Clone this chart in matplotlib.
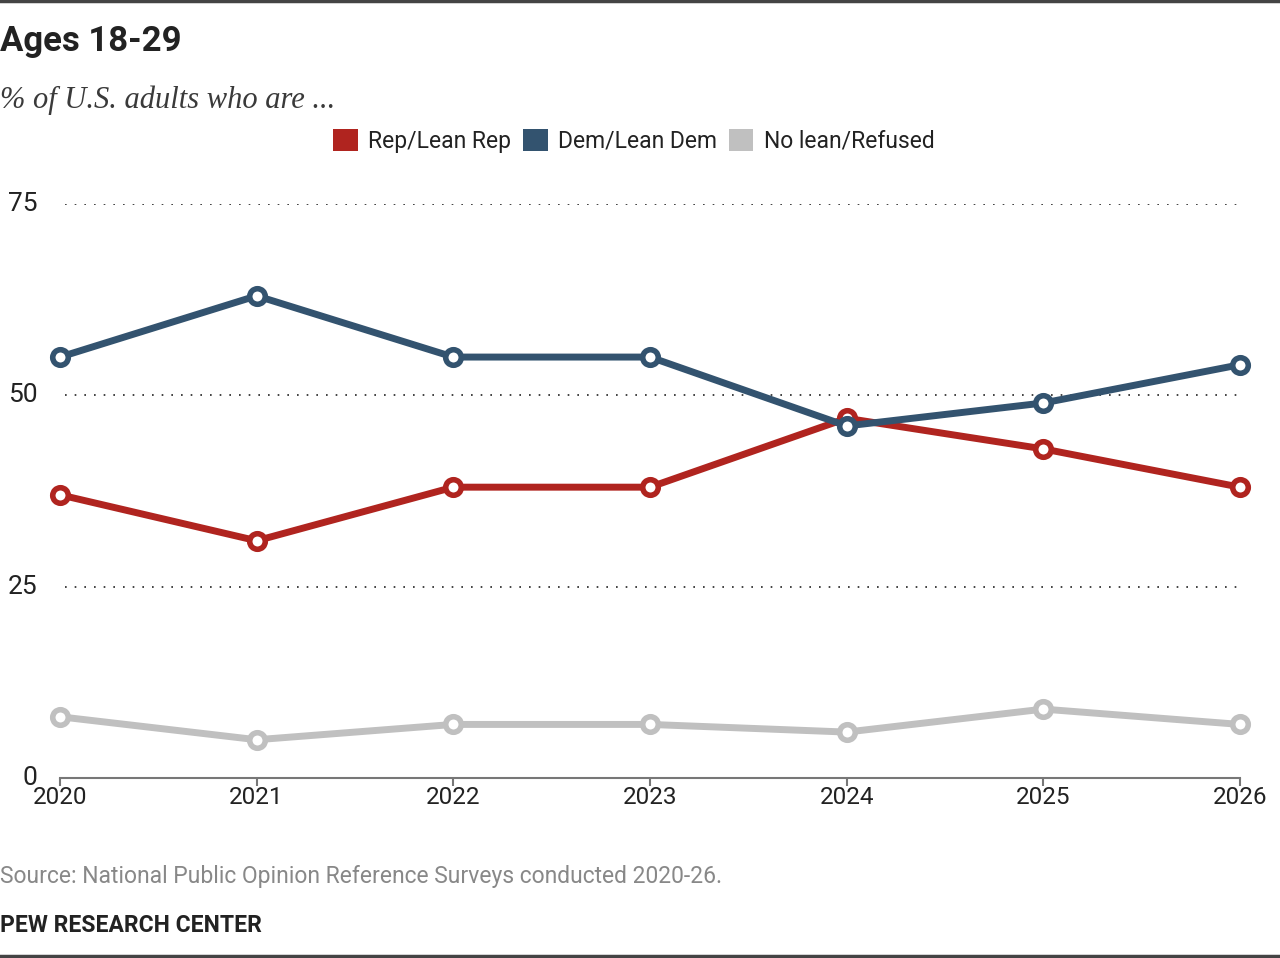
import matplotlib
matplotlib.use("Agg")
import matplotlib.pyplot as plt
from matplotlib.patches import Patch
from matplotlib.lines import Line2D

years = [2020, 2021, 2022, 2023, 2024, 2025, 2026]
rep = [37, 31, 38, 38, 47, 43, 38]
dem = [55, 63, 55, 55, 46, 49, 54]
nolean = [8, 5, 7, 7, 6, 9, 7]
series_names = ["Rep/Lean Rep", "Dem/Lean Dem", "No lean/Refused"]
yticks = [0, 25, 50, 75]

REP_C = "#B0241F"
DEM_C = "#33536F"
NO_C = "#C0C0C0"
TXT = "#222222"

W, H = 1280, 958
fig = plt.figure(figsize=(W / 100, H / 100), dpi=100)
fig.patch.set_facecolor("white")

def fx(px):
    return px / W

def fy(py):
    return 1 - py / H

ax = fig.add_axes([fx(60), fy(778), fx(1240) - fx(60), fy(204) - fy(778)])
ax.set_xlim(years[0], years[-1])
ax.set_ylim(0, 75)

for vals, col in [(nolean, NO_C), (rep, REP_C), (dem, DEM_C)]:
    ax.plot(years, vals, color=col, lw=5, marker="o", ms=11.2,
            mfc="white", mec=col, mew=4, clip_on=False, zorder=3,
            solid_capstyle="butt")

# grid
for y in yticks[1:]:
    ax.axhline(y, xmin=0.004, xmax=1.0, color="#222222", lw=1.2,
               ls=(0, (1, 4.8)), zorder=1)

for s in ["top", "right", "left"]:
    ax.spines[s].set_visible(False)
ax.spines["bottom"].set_color("#777777")
ax.spines["bottom"].set_linewidth(1.5)
ax.spines["bottom"].set_zorder(2)

ax.set_xticks(years)
ax.set_xticklabels([str(y) for y in years], fontsize=17.5, color=TXT,
                   family="Roboto")
ax.tick_params(axis="x", length=6, width=1.5, color="#777777", pad=0)
ax.set_yticks(yticks)
ax.set_yticklabels([str(y) for y in yticks], fontsize=19, color=TXT,
                   family="Roboto")
ax.tick_params(axis="y", length=0, pad=16)
for lab in ax.get_yticklabels():
    lab.set_horizontalalignment("right")
    lab.set_verticalalignment("center")

# texts
fig.text(0, fy(42), "Ages 18-29", fontsize=25, fontweight="bold",
         family="Roboto", color=TXT, va="center", ha="left")
fig.text(0, fy(100), "% of U.S. adults who are ...", fontsize=22,
         style="italic", family="Liberation Serif", color="#3a3a3a",
         va="center", ha="left")
fig.text(0, fy(877), "Source: National Public Opinion Reference Surveys conducted 2020-26.",
         fontsize=16.5, family="Roboto", color="#888888", va="center", ha="left")
fig.text(0, fy(925), "PEW RESEARCH CENTER", fontsize=16.5, fontweight="bold",
         family="Roboto", color=TXT, va="center", ha="left")

# legend
handles = [Patch(facecolor=c, edgecolor="none") for c in (REP_C, DEM_C, NO_C)]
leg = fig.legend(handles, series_names, loc="center",
                 bbox_to_anchor=(fx(634), fy(141)), ncol=3, frameon=False,
                 handlelength=1.05, handleheight=1.1,
                 handletextpad=0.45, columnspacing=0.55,
                 prop={"family": "Roboto", "size": 16.5})
for t in leg.get_texts():
    t.set_color(TXT)

# top and bottom rules
fig.add_artist(Line2D([0, 1], [fy(1), fy(1)], color="#444444", lw=2.5,
                      transform=fig.transFigure))
fig.add_artist(Line2D([0, 1], [fy(956), fy(956)], color="#444444", lw=2.5,
                      transform=fig.transFigure))

fig.savefig("out.png", dpi=100, facecolor="white")
